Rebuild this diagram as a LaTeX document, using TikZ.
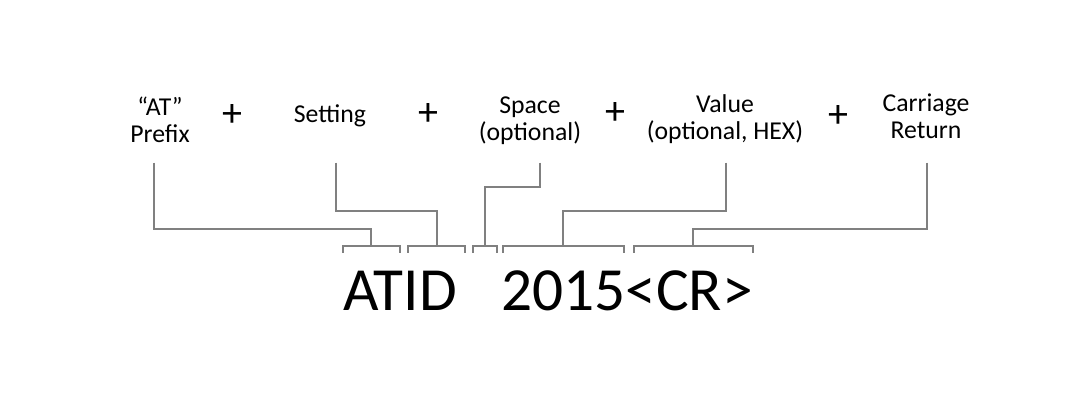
\documentclass[tikz,border=0pt]{standalone}
\usepackage{fontspec}
\setmainfont{Carlito}
\usepackage{tikz}
\usetikzlibrary{positioning}

\begin{document}
\begin{tikzpicture}[x=0.75pt, y=-0.75pt,
  label/.style={align=center, inner sep=0pt, anchor=base, font=\fontsize{19.3}{20.25}\selectfont},
  plus/.style={inner sep=0pt, anchor=base, font=\fontsize{30}{36}\selectfont},
  cmd/.style={inner sep=0pt, anchor=base west, font=\fontsize{46}{54}\selectfont},
  bracket/.style={inner sep=0pt, outer sep=0pt, minimum height=5pt},
  wire/.style={draw=gray, line width=1.5pt}]
\useasboundingbox (0,0) rectangle (1066,405);
% labels
\node[label] (prefix) at (160,142.3) {``AT''\\Prefix};
\node[plus] (plus1) at (232.7,126) {+};
\node[label] (setting) at (330,122.7) {Setting};
\node[plus] (plus2) at (428.3,125.5) {+};
\node[label] (space) at (530,140) {Space\\(optional)};
\node[plus] (plus3) at (615.7,124) {+};
\node[label] (value) at (725,139.3) {Value\\(optional, HEX)};
\node[plus] (plus4) at (838.3,127) {+};
\node[label] (cr) at (926,138.3) {Carriage\\Return};
% command
\node[cmd] (atid) at (343,310) {ATID};
\node[cmd] (num) at (501,310) {2015<CR>};
% brackets
\node[bracket, minimum width=43pt] (b-prefix) at (371.3,249.3) {};
\node[bracket, minimum width=43.2pt] (b-setting) at (436.5,249.3) {};
\node[bracket, minimum width=18pt] (b-space) at (484.7,249.3) {};
\node[bracket, minimum width=91pt] (b-value) at (563.3,249.3) {};
\node[bracket, minimum width=89pt] (b-cr) at (693.3,249.3) {};
\draw[wire] (b-prefix.south west) |- (b-prefix.north east) -- (b-prefix.south east);
\draw[wire] (b-setting.south west) |- (b-setting.north east) -- (b-setting.south east);
\draw[wire] (b-space.south west) |- (b-space.north east) -- (b-space.south east);
\draw[wire] (b-value.south west) |- (b-value.north east) -- (b-value.south east);
\draw[wire] (b-cr.south west) |- (b-cr.north east) -- (b-cr.south east);
% connectors
\coordinate (prefix-top) at (154.3,162.7);
\coordinate (setting-top) at (336,162.7);
\coordinate (space-top) at (540,162.7);
\coordinate (value-top) at (725.7,162.7);
\coordinate (cr-top) at (927.3,162.7);
\draw[wire] (prefix-top) -- ++(0,66.3) -| (b-prefix.north);
\draw[wire] (setting-top) -- ++(0,48.3) -| (b-setting.north);
\draw[wire] (space-top) -- ++(0,24) -| (b-space.north);
\draw[wire] (value-top) -- ++(0,48.3) -| (b-value.north);
\draw[wire] (cr-top) -- ++(0,66.3) -| (b-cr.north);
\end{tikzpicture}
\end{document}
